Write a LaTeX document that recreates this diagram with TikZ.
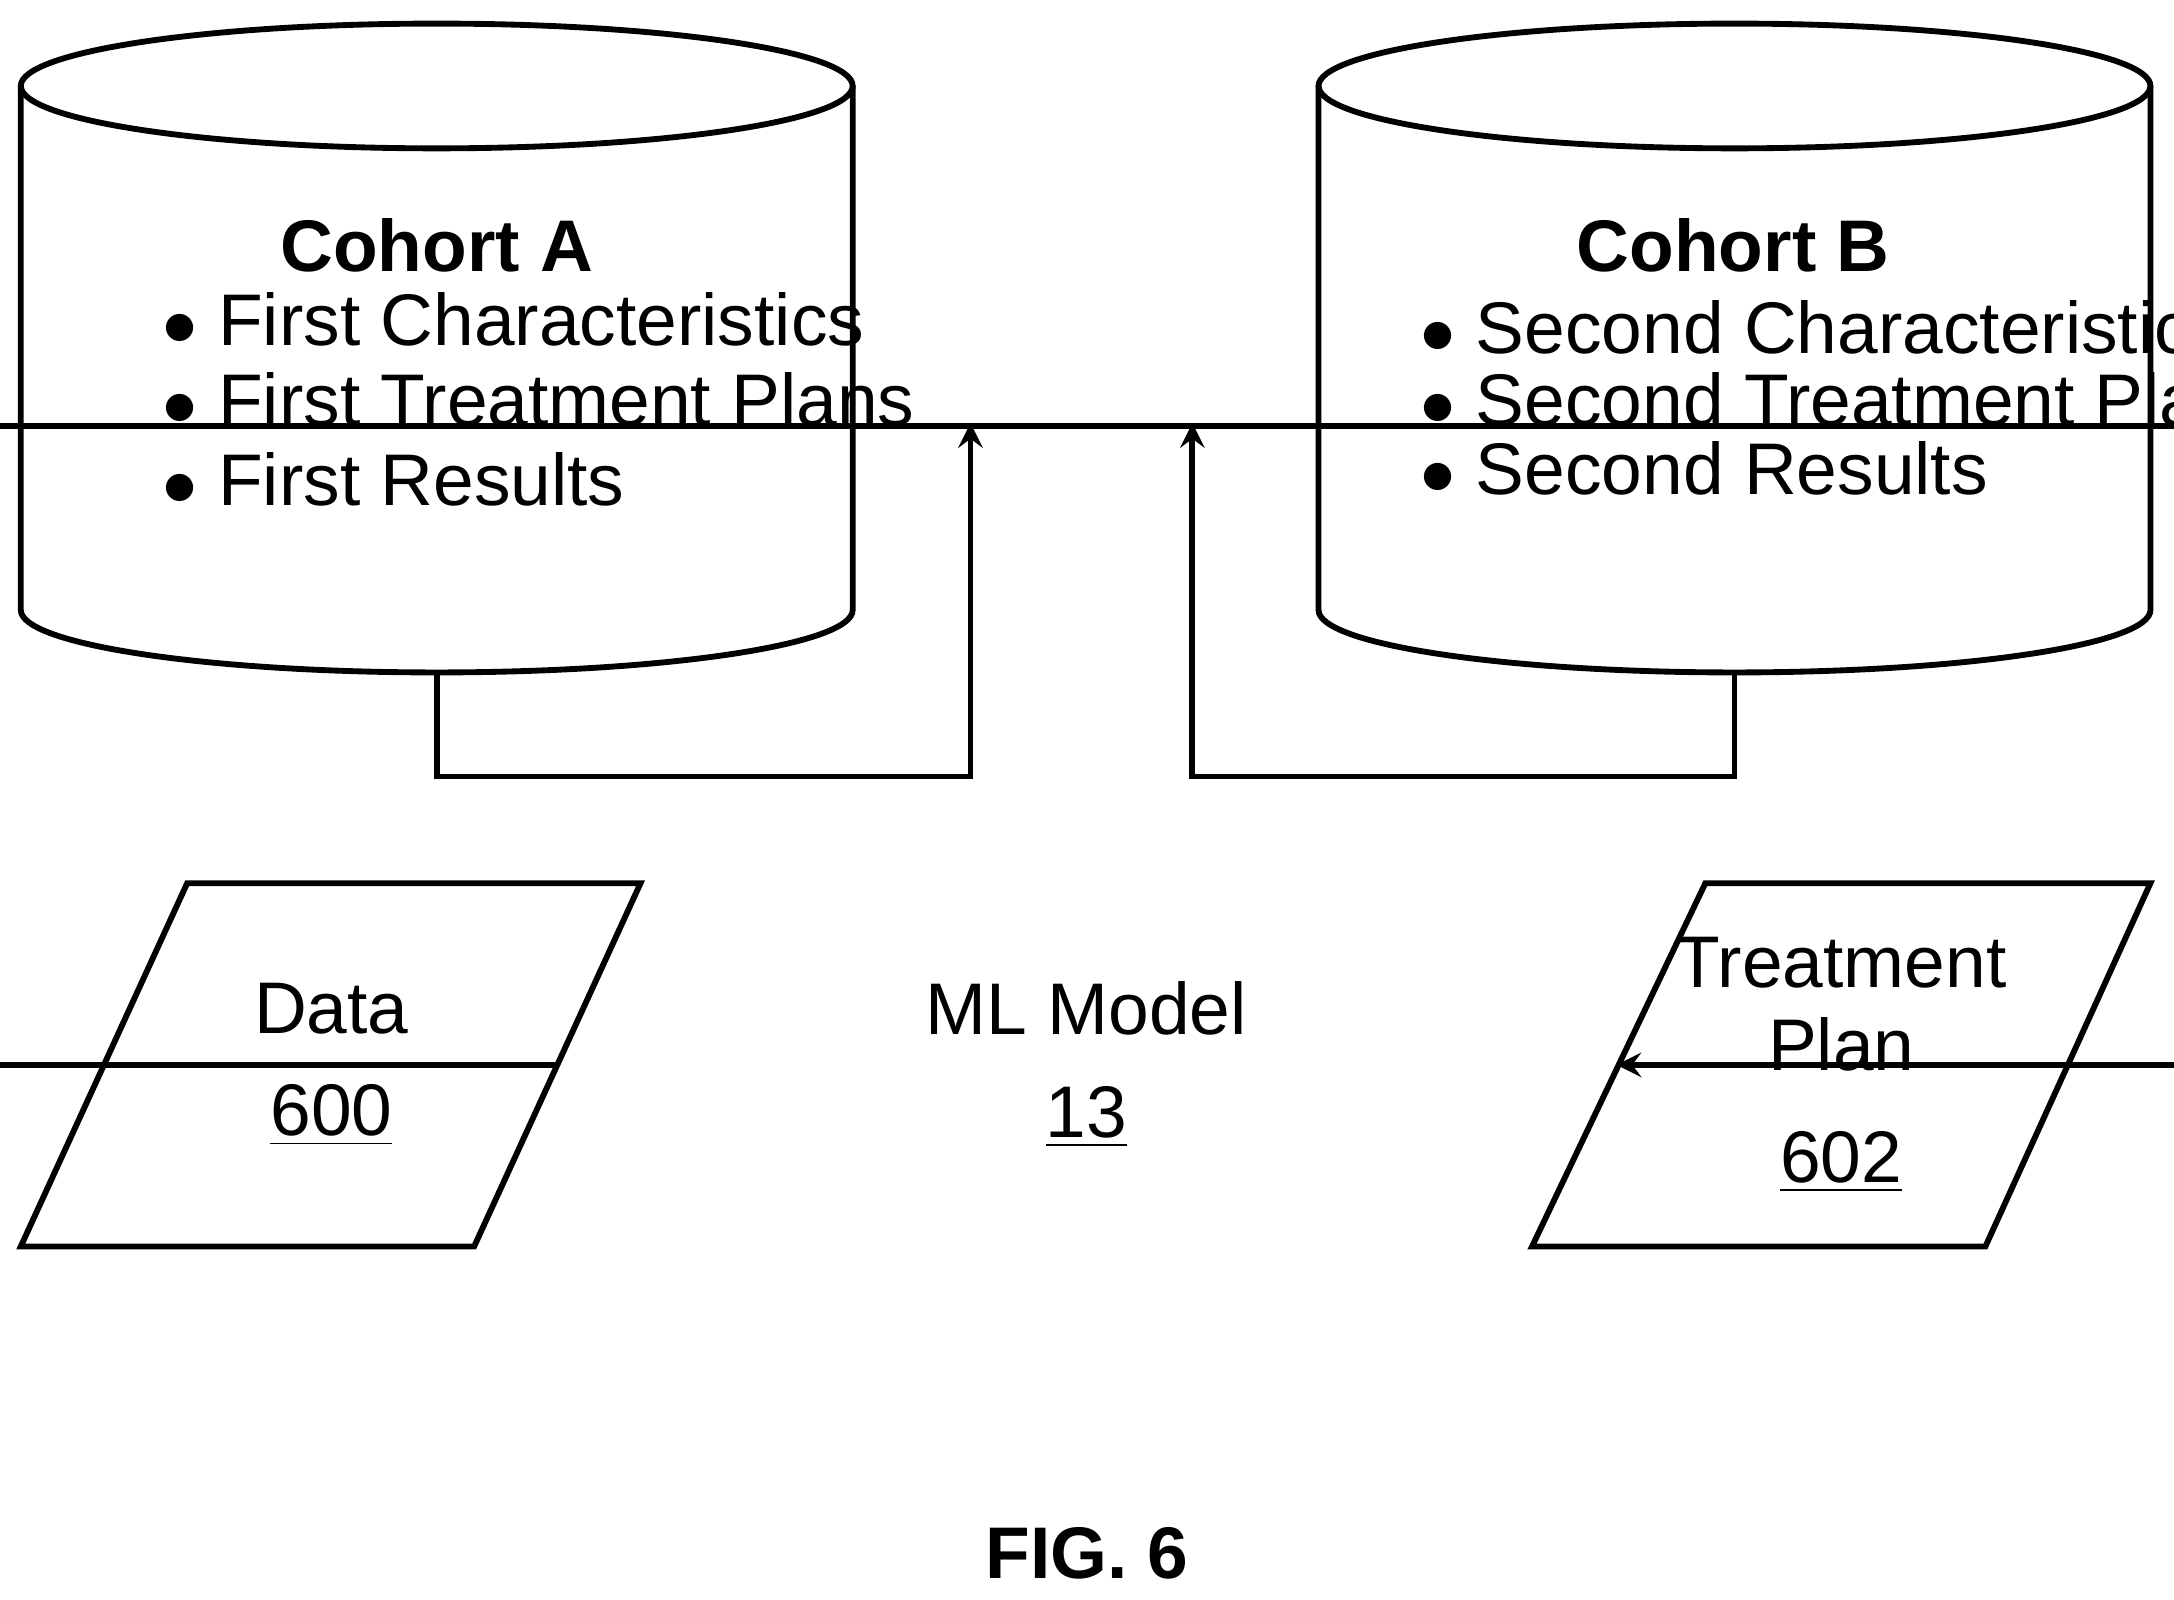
\documentclass[tikz,border=0pt]{standalone}
\usepackage{fontspec}
\setmainfont{Liberation Sans}
\usetikzlibrary{positioning}
\tikzset{
  line/.style={line width=1.2pt},
  flow/.style={line width=1.2pt, ->, >=stealth},
  txt/.style={font=\fontsize{15}{17}\selectfont, align=left},
  head/.style={font=\fontsize{15}{17}\selectfont\bfseries}
}
\newcommand{\cyl}[2]{% center x, name
  \draw[line] (#1,-62) ellipse (300 and 45);
  \draw[line] (#1-300,-62) -- (#1-300,-440) arc (180:360:300 and 45) -- (#1+300,-62);
  \coordinate (#2) at (#1,-485);
}
\begin{document}
\begin{tikzpicture}[x=0.01cm, y=0.01cm]
  \useasboundingbox (0,0) rectangle (1568,-1154);
  % cohorts
  \cyl{315}{cA}
  \cyl{1251}{cB}
  \node[head] (hA) at (315,-177) {Cohort A};
  \node[txt, anchor=west] (a1) at (105,-230) {$\bullet$ First Characteristics};
  \node[txt, anchor=west] (a2) at (105,-288) {$\bullet$ First Treatment Plans};
  \node[txt, anchor=west] (a3) at (105,-346) {$\bullet$ First Results};
  \node[head] (hB) at (1250,-177) {Cohort B};
  \node[txt, anchor=west] (b1) at (1012,-236) {$\bullet$ Second Characteristics};
  \node[txt, anchor=west] (b2) at (1012,-288) {$\bullet$ Second Treatment Plans};
  \node[txt, anchor=west] (b3) at (1012,-338) {$\bullet$ Second Results};
  % model
  \node[draw, line, minimum width=489, minimum height=262, txt, align=center] (ml) at (783.5,-768)
    {ML Model\\[4pt]\underline{13}};
  % data and plan
  \draw[line] (135,-637) -- (462,-637) -- (342,-899) -- (15,-899) -- cycle;
  \node[txt, align=center] (data) at (239,-768) {Data\\[4pt]\underline{600}};
  \coordinate (dout) at (402,-768);
  \draw[line] (1230,-637) -- (1551,-637) -- (1432,-899) -- (1105,-899) -- cycle;
  \node[txt, align=center] (plan) at (1328,-768) {Treatment\\Plan\\[6pt]\underline{602}};
  \coordinate (pin) at (1166,-768);
  % connectors
  \draw[flow] (cA) |- (700,-560) -- (ml.north -| 700,0);
  \draw[flow] (cB) |- (860,-560) -- (ml.north -| 860,0);
  \draw[flow] (dout) -- (ml.west);
  \draw[flow] (ml.east) -- (pin);
  \node[head] (fig) at (784,-1120) {FIG. 6};
\end{tikzpicture}
\end{document}
